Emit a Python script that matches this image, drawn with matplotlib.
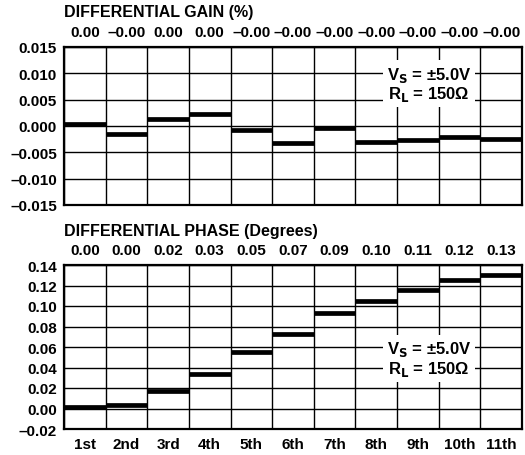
import numpy as np
import matplotlib
matplotlib.use("Agg")
import matplotlib.pyplot as plt

plt.rcParams['font.family'] = ['Liberation Sans', 'DejaVu Sans']
plt.rcParams['font.weight'] = 'bold'
plt.rcParams['font.size'] = 11

# Dữ liệu
harmonics = ["1st", "2nd", "3rd", "4th", "5th", "6th", "7th", "8th", "9th", "10th", "11th"]
gain = [0.0003, -0.0016, 0.0014, 0.0023, -0.0007, -0.0033, -0.0003, -0.0030, -0.0027, -0.0020, -0.0025]
gain_labels = ["0.00", "\u20130.00", "0.00", "0.00", "\u20130.00", "\u20130.00", "\u20130.00",
               "\u20130.00", "\u20130.00", "\u20130.00", "\u20130.00"]
phase = [0.0013, 0.0036, 0.0175, 0.0336, 0.055, 0.073, 0.093, 0.105, 0.116, 0.125, 0.130]
phase_labels = ["0.00", "0.00", "0.02", "0.03", "0.05", "0.07", "0.09", "0.10", "0.11", "0.12", "0.13"]

gain_ticks = [-0.015, -0.010, -0.005, 0.000, 0.005, 0.010, 0.015]
phase_ticks = [-0.02, 0.00, 0.02, 0.04, 0.06, 0.08, 0.10, 0.12, 0.14]

fig = plt.figure(figsize=(5.25, 4.56), dpi=100)
W, H = 525, 456


def make_axes(top, bottom):
    return fig.add_axes([64 / W, 1 - bottom / H, (522 - 64) / W, (bottom - top) / H])


def draw_panel(ax, values, yticks, fmt, col_labels, note_y):
    n = len(values)
    x = np.arange(n)
    ax.set_xlim(0, n)
    ax.set_ylim(yticks[0], yticks[-1])
    ax.set_xticks(np.arange(n + 1))
    ax.set_xticklabels([])
    ax.set_yticks(yticks)
    ax.set_yticklabels([fmt.format(v).replace("-", "\u2013") for v in yticks])
    ax.grid(True, color="black", lw=1.0, zorder=1)
    ax.tick_params(length=0, pad=5)
    for s in ax.spines.values():
        s.set_linewidth(1.6)
    ax.hlines(values, x, x + 1, colors="black", lw=3.4, zorder=4)
    # nhãn giá trị phía trên
    top = ax.secondary_xaxis('top')
    top.set_xticks(x + 0.5)
    top.set_xticklabels(col_labels)
    top.tick_params(length=0, pad=6)
    ax.text(8.77, note_y, "V$_\\mathbf{S}$ = \u00b15.0V\nR$_\\mathbf{L}$ = 150\u03a9",
            ha="center", va="center", linespacing=1.05, zorder=5, fontsize=12,
            bbox=dict(facecolor="white", edgecolor="none", pad=3))


ax1 = make_axes(48, 206)
draw_panel(ax1, gain, gain_ticks, "{:.3f}", gain_labels, 0.0080)
fig.text(64 / W, 1 - 12 / H, "DIFFERENTIAL GAIN (%)", ha="left", va="center",
         fontsize=11.5, fontweight="bold")

ax2 = make_axes(266, 430)
draw_panel(ax2, phase, phase_ticks, "{:.2f}", phase_labels, 0.049)
ax2.set_xticks(np.arange(len(phase)) + 0.5, minor=True)
ax2.set_xticklabels(harmonics, minor=True)
ax2.tick_params(which="minor", length=0, pad=6)
fig.text(64 / W, 1 - 232 / H, "DIFFERENTIAL PHASE (Degrees)", ha="left", va="center",
         fontsize=11.5, fontweight="bold")

fig.savefig("out.png", dpi=100)
